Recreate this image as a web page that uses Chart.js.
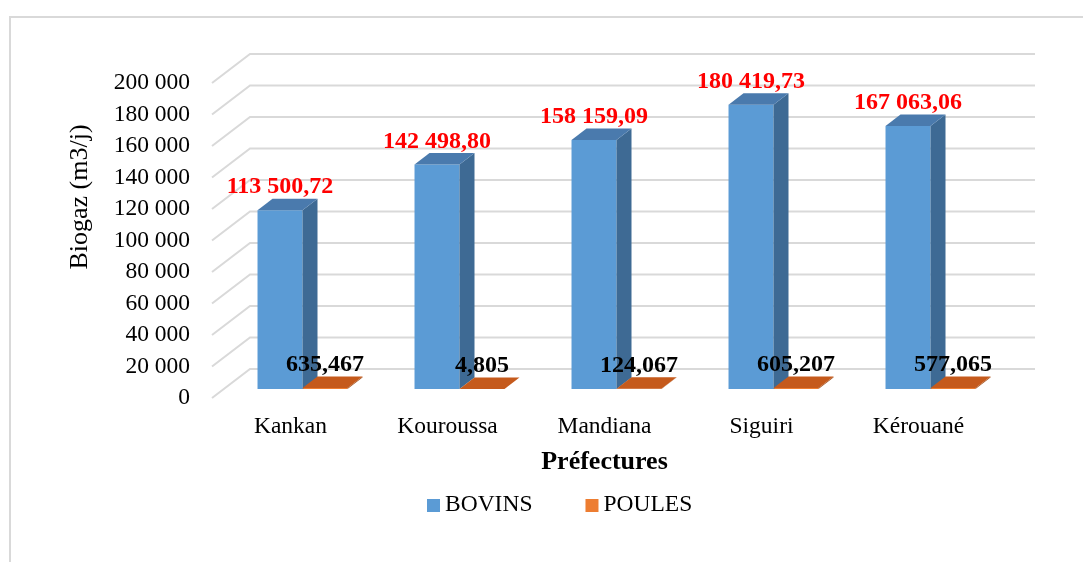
<!DOCTYPE html>
<html>
<head>
<meta charset="utf-8">
<script src="https://cdn.jsdelivr.net/npm/chart.js@4/dist/chart.umd.min.js"></script>
<style>
  body { margin: 0; background: #fff; }
</style>
</head>
<body>
<canvas id="myChart" width="1083" height="562"></canvas>
<script>
const categories = ['Kankan', 'Kouroussa', 'Mandiana', 'Siguiri', 'Kérouané'];
const bovins = [113500.72, 142498.80, 158159.09, 180419.73, 167063.06];
const poules = [635.467, 4.805, 124.067, 605.207, 577.065];
const yTickLabels = ['0', '20 000', '40 000', '60 000', '80 000', '100 000', '120 000', '140 000', '160 000', '180 000', '200 000'];

const serif = "'Liberation Serif', 'Times New Roman', serif";
Chart.defaults.font.family = serif;
Chart.defaults.color = '#000';

// french number format: 113 500,72
function fr(v, d) {
  const parts = v.toFixed(d).split('.');
  return parts[0].replace(/\B(?=(\d{3})+(?!\d))/g, ' ') + ',' + parts[1];
}

// depth of the fake 3d
const bar3d = { x: 12, y: -9, dx: 15, dy: -11.5 };
const wall = { dx: 38, dy: -29 };

const depthPlugin = {
  id: 'depth3d',
  beforeDraw(chart) {
    const ctx = chart.ctx;
    ctx.save();
    ctx.strokeStyle = '#d9d9d9';
    ctx.lineWidth = 2;
    ctx.beginPath();
    ctx.moveTo(10, 562);
    ctx.lineTo(10, 17);
    ctx.lineTo(1083, 17);
    ctx.stroke();
    ctx.restore();
  },
  beforeDatasetsDraw(chart) {
    const {ctx, chartArea: a, scales: {y}} = chart;
    ctx.save();
    ctx.strokeStyle = '#d9d9d9';
    ctx.lineWidth = 2;
    y.ticks.forEach(t => {
      const py = y.getPixelForValue(t.value);
      ctx.beginPath();
      ctx.moveTo(a.left, py);
      ctx.lineTo(a.left + wall.dx, py + wall.dy);
      ctx.lineTo(a.right + wall.dx, py + wall.dy);
      ctx.stroke();
    });
    ctx.restore();
    ctx.save();
    ctx.translate(bar3d.x, bar3d.y);
  },
  afterDatasetsDraw(chart) {
    const ctx = chart.ctx;
    const sideCols = ['#3e6a94', '#a3501c'];
    const topCols = ['#4a7aad', '#c55a1c'];
    chart.data.datasets.forEach((ds, di) => {
      chart.getDatasetMeta(di).data.forEach(bar => {
        const p = bar.getProps(['x', 'y', 'base', 'width'], true);
        const l = p.x - p.width / 2, r = p.x + p.width / 2;
        ctx.fillStyle = sideCols[di];
        ctx.beginPath();
        ctx.moveTo(r, p.y);
        ctx.lineTo(r + bar3d.dx, p.y + bar3d.dy);
        ctx.lineTo(r + bar3d.dx, p.base + bar3d.dy);
        ctx.lineTo(r, p.base);
        ctx.closePath();
        ctx.fill();
        ctx.fillStyle = topCols[di];
        ctx.beginPath();
        ctx.moveTo(l, p.y);
        ctx.lineTo(l + bar3d.dx, p.y + bar3d.dy);
        ctx.lineTo(r + bar3d.dx, p.y + bar3d.dy);
        ctx.lineTo(r, p.y);
        ctx.closePath();
        ctx.fill();
      });
    });
    ctx.restore();

    // value labels
    const labelCols = ['#ff0000', '#000000'];
    const digits = [2, 3];
    ctx.save();
    ctx.font = 'bold 24px ' + serif;
    ctx.textAlign = 'center';
    ctx.textBaseline = 'alphabetic';
    chart.data.datasets.forEach((ds, di) => {
      chart.getDatasetMeta(di).data.forEach((bar, i) => {
        const p = bar.getProps(['x', 'y'], true);
        ctx.fillStyle = labelCols[di];
        ctx.fillText(fr(ds.data[i], digits[di]), p.x + bar3d.x, p.y + bar3d.y - 17);
      });
    });
    ctx.restore();
  },
  afterDraw(chart) {
    const ctx = chart.ctx;
    // y axis title
    ctx.save();
    ctx.font = '26px ' + serif;
    ctx.fillStyle = '#000';
    ctx.textAlign = 'center';
    ctx.textBaseline = 'middle';
    ctx.translate(80, 197);
    ctx.rotate(-Math.PI / 2);
    ctx.fillText('Biogaz (m3/j)', 0, 0);
    ctx.restore();

    // legend
    ctx.save();
    ctx.font = '23.5px ' + serif;
    ctx.textBaseline = 'middle';
    let lx = 427;
    chart.data.datasets.forEach(ds => {
      ctx.fillStyle = ds.legendColor;
      ctx.fillRect(lx, 499, 13, 13);
      ctx.fillStyle = '#000';
      ctx.fillText(ds.label, lx + 18, 505);
      lx += 18 + ctx.measureText(ds.label).width + 53;
    });
    ctx.restore();
  }
};

const ctx = document.getElementById('myChart').getContext('2d');
const myChart = new Chart(ctx, {
  type: 'bar',
  data: {
    labels: categories,
    datasets: [
      {
        label: 'BOVINS',
        data: bovins,
        backgroundColor: '#5b9bd5',
        legendColor: '#5b9bd5',
        categoryPercentage: 0.573,
        barPercentage: 1
      },
      {
        label: 'POULES',
        data: poules,
        backgroundColor: '#ed7d31',
        legendColor: '#ed7d31',
        categoryPercentage: 0.573,
        barPercentage: 1
      }
    ]
  },
  options: {
    responsive: false,
    animation: false,
    layout: {
      padding: { left: 0, right: 86, top: 83, bottom: 80 }
    },
    scales: {
      x: {
        grid: { display: false, drawTicks: false },
        border: { display: false },
        ticks: { font: { size: 23.5 }, padding: 15 },
        title: {
          display: true,
          text: 'Préfectures',
          font: { size: 26, weight: 'bold' },
          padding: { top: 4, bottom: 4 }
        },
        afterFit(scale) { scale.height = 84; }
      },
      y: {
        min: 0,
        max: 200000,
        grid: { display: false, drawTicks: false },
        border: { display: false },
        ticks: {
          stepSize: 20000,
          font: { size: 23.5 },
          padding: 22,
          callback: (v, i) => yTickLabels[i]
        },
        afterFit(scale) { scale.width = 212; }
      }
    },
    plugins: {
      legend: { display: false },
      tooltip: { enabled: false }
    }
  },
  plugins: [depthPlugin]
});
</script>
</body>
</html>
